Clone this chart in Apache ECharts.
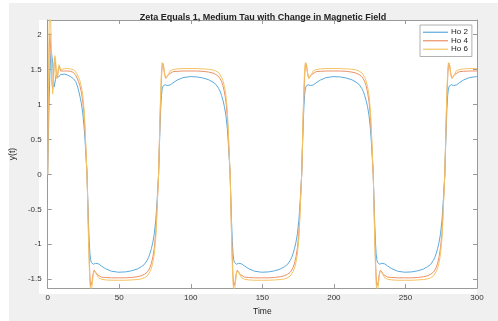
<!DOCTYPE html>
<html>
<head>
<meta charset="utf-8">
<script src="https://cdn.jsdelivr.net/npm/echarts@6/dist/echarts.min.js"></script>
<style>
html,body{margin:0;padding:0;background:#fff;}
#c{width:498px;height:321px;}
</style>
</head>
<body>
<div id="c"></div>
<script>
// ---- data ----
var titleText = 'Zeta Equals 1, Medium Tau with Change in Magnetic Field';
var seriesNames = ['Ho 2', 'Ho 4', 'Ho 6'];
var xTicks = [0, 50, 100, 150, 200, 250, 300];
var yTicks = [-1.5, -1, -0.5, 0, 0.5, 1, 1.5, 2];

var time = [
0,0.5,1,1.5,2,2.5,3,3.5,4,4.5,5,5.5,6,6.5,7,7.5,8,9,10,12,14,16,18,19.5,20.5,21.5,22.5,23.5,24.5,25.5,26,26.5,27,
27.5,28,28.5,29,29.5,30,30.5,31,31.5,32,32.5,33,33.5,34.5,35.5,37.5,40.5,44.5,49.5,54.5,58.5,62.5,65.5,67.5,69.5,70.5,71.5,72.5,73.5,74.5,75.5,76,76.5,77,
77.5,78,78.5,79,79.5,80,80.5,81,81.5,82,82.5,83,83.5,84.5,85.5,87.5,90.5,94.5,99.5,104.5,108.5,112.5,115.5,117.5,119.5,120.5,121.5,122.5,123.5,124.5,125.5,126,126.5,127,
127.5,128,128.5,129,129.5,130,130.5,131,131.5,132,132.5,133,133.5,134.5,135.5,137.5,140.5,144.5,149.5,154.5,158.5,162.5,165.5,167.5,169.5,170.5,171.5,172.5,173.5,174.5,175.5,176,176.5,177,
177.5,178,178.5,179,179.5,180,180.5,181,181.5,182,182.5,183,183.5,184.5,185.5,187.5,190.5,194.5,199.5,204.5,208.5,212.5,215.5,217.5,219.5,220.5,221.5,222.5,223.5,224.5,225.5,226,226.5,227,
227.5,228,228.5,229,229.5,230,230.5,231,231.5,232,232.5,233,233.5,234.5,235.5,237.5,240.5,244.5,249.5,254.5,258.5,262.5,265.5,267.5,269.5,270.5,271.5,272.5,273.5,274.5,275.5,276,276.5,277,
277.5,278,278.5,279,279.5,280,280.5,281,281.5,282,282.5,283,283.5,284.5,285.5,287.5,290.5,294.5,299.5,300
];

var ho2 = [
0,0.55,1.05,1.42,1.66,1.77,1.78,1.60,1.38,1.25,1.26,1.36,1.44,1.45,1.42,1.39,1.40,1.43,1.44,1.435,1.42,1.40,1.37,1.33,1.28,1.21,1.12,1.02,0.88,0.66,0.52,0.36,0.18,
0,-0.35,-0.68,-0.95,-1.13,-1.22,-1.26,-1.28,-1.285,-1.285,-1.28,-1.275,-1.272,-1.27,-1.28,-1.31,-1.35,-1.385,-1.40,-1.395,-1.38,-1.355,-1.32,-1.29,-1.23,-1.19,-1.13,-1.06,-0.97,-0.85,-0.66,-0.52,-0.36,-0.18,
0,0.35,0.68,0.95,1.13,1.22,1.26,1.28,1.285,1.285,1.28,1.275,1.272,1.27,1.28,1.31,1.35,1.385,1.40,1.395,1.38,1.355,1.32,1.29,1.23,1.19,1.13,1.06,0.97,0.85,0.66,0.52,0.36,0.18,
0,-0.35,-0.68,-0.95,-1.13,-1.22,-1.26,-1.28,-1.285,-1.285,-1.28,-1.275,-1.272,-1.27,-1.28,-1.31,-1.35,-1.385,-1.40,-1.395,-1.38,-1.355,-1.32,-1.29,-1.23,-1.19,-1.13,-1.06,-0.97,-0.85,-0.66,-0.52,-0.36,-0.18,
0,0.35,0.68,0.95,1.13,1.22,1.26,1.28,1.285,1.285,1.28,1.275,1.272,1.27,1.28,1.31,1.35,1.385,1.40,1.395,1.38,1.355,1.32,1.29,1.23,1.19,1.13,1.06,0.97,0.85,0.66,0.52,0.36,0.18,
0,-0.35,-0.68,-0.95,-1.13,-1.22,-1.26,-1.28,-1.285,-1.285,-1.28,-1.275,-1.272,-1.27,-1.28,-1.31,-1.35,-1.385,-1.40,-1.395,-1.38,-1.355,-1.32,-1.29,-1.23,-1.19,-1.13,-1.06,-0.97,-0.85,-0.66,-0.52,-0.36,-0.18,
0,0.35,0.68,0.95,1.13,1.22,1.26,1.28,1.285,1.285,1.28,1.275,1.272,1.27,1.28,1.31,1.35,1.385,1.40,1.40
];

var ho4 = [
0,1.0,1.75,2.02,2.00,1.65,1.30,1.22,1.38,1.58,1.66,1.58,1.44,1.38,1.43,1.52,1.55,1.48,1.47,1.48,1.48,1.475,1.46,1.42,1.38,1.33,1.27,1.18,1.05,0.84,0.66,0.44,0.21,
0,-0.42,-0.84,-1.18,-1.45,-1.60,-1.62,-1.54,-1.45,-1.40,-1.37,-1.36,-1.38,-1.43,-1.455,-1.47,-1.475,-1.48,-1.48,-1.48,-1.475,-1.465,-1.45,-1.43,-1.40,-1.37,-1.33,-1.27,-1.18,-1.05,-0.84,-0.66,-0.44,-0.21,
0,0.40,0.80,1.12,1.38,1.55,1.59,1.54,1.46,1.41,1.38,1.37,1.39,1.43,1.455,1.47,1.475,1.48,1.48,1.48,1.475,1.465,1.45,1.43,1.40,1.37,1.33,1.27,1.18,1.05,0.84,0.66,0.44,0.21,
0,-0.42,-0.84,-1.18,-1.45,-1.60,-1.62,-1.54,-1.45,-1.40,-1.37,-1.36,-1.38,-1.43,-1.455,-1.47,-1.475,-1.48,-1.48,-1.48,-1.475,-1.465,-1.45,-1.43,-1.40,-1.37,-1.33,-1.27,-1.18,-1.05,-0.84,-0.66,-0.44,-0.21,
0,0.40,0.80,1.12,1.38,1.55,1.59,1.54,1.46,1.41,1.38,1.37,1.39,1.43,1.455,1.47,1.475,1.48,1.48,1.48,1.475,1.465,1.45,1.43,1.40,1.37,1.33,1.27,1.18,1.05,0.84,0.66,0.44,0.21,
0,-0.42,-0.84,-1.18,-1.45,-1.60,-1.62,-1.54,-1.45,-1.40,-1.37,-1.36,-1.38,-1.43,-1.455,-1.47,-1.475,-1.48,-1.48,-1.48,-1.475,-1.465,-1.45,-1.43,-1.40,-1.37,-1.33,-1.27,-1.18,-1.05,-0.84,-0.66,-0.44,-0.21,
0,0.40,0.80,1.12,1.38,1.55,1.59,1.54,1.46,1.41,1.38,1.37,1.39,1.43,1.455,1.47,1.475,1.48,1.48,1.48
];

var ho6 = [
0,1.2,2.1,2.4,2.3,1.85,1.35,1.15,1.30,1.55,1.70,1.65,1.48,1.37,1.40,1.50,1.57,1.50,1.50,1.515,1.515,1.51,1.50,1.47,1.44,1.39,1.34,1.26,1.14,0.92,0.72,0.48,0.22,
0,-0.45,-0.90,-1.28,-1.55,-1.68,-1.70,-1.60,-1.49,-1.41,-1.38,-1.37,-1.39,-1.44,-1.48,-1.50,-1.51,-1.515,-1.515,-1.515,-1.51,-1.505,-1.495,-1.48,-1.455,-1.43,-1.39,-1.34,-1.26,-1.14,-0.92,-0.72,-0.48,-0.22,
0,0.42,0.85,1.20,1.48,1.60,1.62,1.56,1.47,1.40,1.37,1.36,1.38,1.44,1.48,1.50,1.51,1.515,1.515,1.515,1.51,1.505,1.495,1.48,1.455,1.43,1.39,1.34,1.26,1.14,0.92,0.72,0.48,0.22,
0,-0.45,-0.90,-1.28,-1.55,-1.68,-1.70,-1.60,-1.49,-1.41,-1.38,-1.37,-1.39,-1.44,-1.48,-1.50,-1.51,-1.515,-1.515,-1.515,-1.51,-1.505,-1.495,-1.48,-1.455,-1.43,-1.39,-1.34,-1.26,-1.14,-0.92,-0.72,-0.48,-0.22,
0,0.42,0.85,1.20,1.48,1.60,1.62,1.56,1.47,1.40,1.37,1.36,1.38,1.44,1.48,1.50,1.51,1.515,1.515,1.515,1.51,1.505,1.495,1.48,1.455,1.43,1.39,1.34,1.26,1.14,0.92,0.72,0.48,0.22,
0,-0.45,-0.90,-1.28,-1.55,-1.68,-1.70,-1.60,-1.49,-1.41,-1.38,-1.37,-1.39,-1.44,-1.48,-1.50,-1.51,-1.515,-1.515,-1.515,-1.51,-1.505,-1.495,-1.48,-1.455,-1.43,-1.39,-1.34,-1.26,-1.14,-0.92,-0.72,-0.48,-0.22,
0,0.42,0.85,1.20,1.48,1.60,1.62,1.56,1.47,1.40,1.37,1.36,1.38,1.44,1.48,1.50,1.51,1.515,1.515,1.515
];

// ---- chart ----
var colors = ['#5BAADD', '#EA9168', '#F3C464'];
function pairs(ys) { return time.map(function (t, i) { return [t, ys[i]]; }); }
var FONT = '"Liberation Sans", Arial, sans-serif';
var axisColor = '#9a9a9a';
var labelStyle = { color: '#333', fontSize: 8, fontFamily: FONT };

var chart = echarts.init(document.getElementById('c'), null, { renderer: 'canvas' });
chart.setOption({
  animation: false,
  color: colors,
  graphic: [
    { type: 'rect', z: -100, shape: { x: 9, y: 3, width: 489, height: 318 }, style: { fill: '#f0f0f0' } },
    { type: 'rect', z: -99, shape: { x: 39, y: 20, width: 438, height: 274 }, style: { fill: '#ffffff' } }
  ],
  title: {
    text: titleText,
    left: 258, top: 8, textAlign: 'center',
    textStyle: { fontSize: 9, fontWeight: 'bold', color: '#222', fontFamily: FONT }
  },
  legend: {
    orient: 'vertical', left: 420, top: 25,
    padding: [3, 4, 3, 3], itemGap: 0,
    itemWidth: 25, itemHeight: 1.2,
    backgroundColor: '#fff', borderColor: '#b0b0b0', borderWidth: 1,
    textStyle: { fontSize: 8, color: '#222', fontFamily: FONT, lineHeight: 8.5, padding: [0, 0, 0, -2] },
    data: seriesNames.map(function (n) { return { name: n, icon: 'rect' }; })
  },
  grid: { left: 39, right: 21, top: 20, bottom: 27, containLabel: false },
  xAxis: [
    {
      type: 'value', min: 0, max: 300, interval: 50, position: 'bottom',
      name: 'Time', nameLocation: 'middle', nameGap: 16,
      nameTextStyle: { fontSize: 8.5, color: '#222', fontFamily: FONT },
      axisLine: { show: true, onZero: false, lineStyle: { color: axisColor, width: 1 } },
      axisTick: { show: true, inside: true, length: 4, lineStyle: { color: axisColor } },
      axisLabel: Object.assign({ margin: 6, customValues: xTicks }, labelStyle),
      splitLine: { show: false }
    },
    {
      type: 'value', min: 0, max: 300, interval: 50, position: 'top',
      axisLine: { show: true, onZero: false, lineStyle: { color: axisColor, width: 1 } },
      axisTick: { show: true, inside: true, length: 4, lineStyle: { color: axisColor } },
      axisLabel: { show: false }, splitLine: { show: false }
    }
  ],
  yAxis: [
    {
      type: 'value', min: -1.627, max: 2.21, position: 'left',
      name: 'y(t)', nameLocation: 'middle', nameGap: 21, nameRotate: 90,
      nameTextStyle: { fontSize: 8.5, color: '#222', fontFamily: FONT },
      axisLine: { show: true, onZero: false, lineStyle: { color: axisColor, width: 1 } },
      axisTick: { show: true, inside: true, length: 4, customValues: yTicks, lineStyle: { color: axisColor } },
      axisLabel: Object.assign({ margin: 6, customValues: yTicks }, labelStyle),
      splitLine: { show: false }
    },
    {
      type: 'value', min: -1.627, max: 2.21, position: 'right',
      axisLine: { show: true, onZero: false, lineStyle: { color: axisColor, width: 1 } },
      axisTick: { show: true, inside: true, length: 4, customValues: yTicks, lineStyle: { color: axisColor } },
      axisLabel: { show: false }, splitLine: { show: false }
    }
  ],
  series: [
    { name: seriesNames[0], type: 'line', data: pairs(ho2), showSymbol: false, symbol: 'none', clip: true, lineStyle: { width: 1 } },
    { name: seriesNames[1], type: 'line', data: pairs(ho4), showSymbol: false, symbol: 'none', clip: true, lineStyle: { width: 1 } },
    { name: seriesNames[2], type: 'line', data: pairs(ho6), showSymbol: false, symbol: 'none', clip: true, lineStyle: { width: 1 } }
  ]
});
</script>
</body>
</html>
